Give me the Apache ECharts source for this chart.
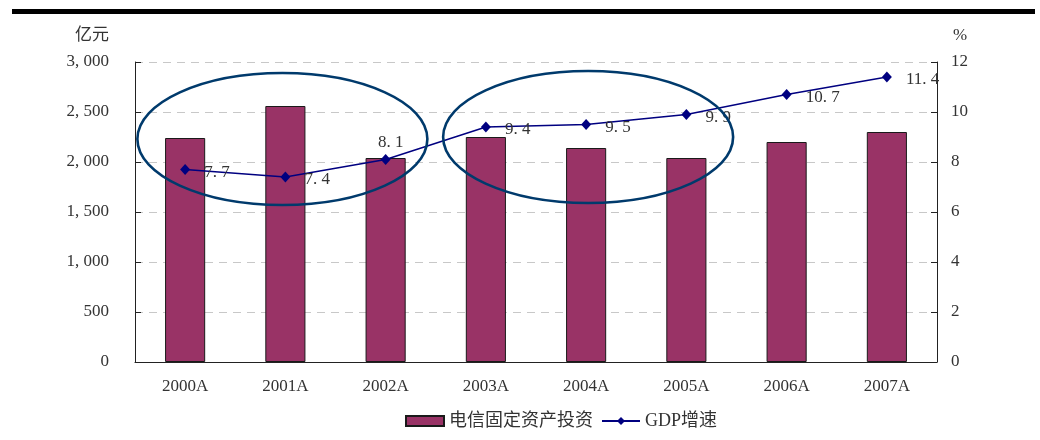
<!DOCTYPE html>
<html>
<head>
<meta charset="utf-8">
<script src="https://cdn.jsdelivr.net/npm/echarts@6/dist/echarts.min.js"></script>
<style>
  html, body { margin: 0; padding: 0; background: #fff; }
  #chart { width: 1040px; height: 440px; }
</style>
</head>
<body>
<div id="chart"></div>
<script>
// Telecom fixed-asset investment (亿元) vs GDP growth (%)
const categories = ['2000A', '2001A', '2002A', '2003A', '2004A', '2005A', '2006A', '2007A'];
const investment = [2240, 2560, 2040, 2250, 2140, 2040, 2200, 2300];
const gdpGrowth = [7.7, 7.4, 8.1, 9.4, 9.5, 9.9, 10.7, 11.4];
const leftTicks = { min: 0, max: 3000, interval: 500 };
const rightTicks = { min: 0, max: 12, interval: 2 };

const FONT = '"Liberation Serif", "Noto Sans CJK SC", serif';
const TEXT = '#333';
const AXIS = '#222';

function thousands(v) {
  const s = String(v);
  return s.length > 3 ? s.slice(0, -3) + ', ' + s.slice(-3) : s;
}
function decimal(v) {
  return v.toFixed(1).replace('.', '. ');
}

const gdpData = gdpGrowth.map((v, i) =>
  i === 2 ? { value: v, label: { position: 'top', distance: 3, offset: [5, 0] } } : v
);

const chart = echarts.init(document.getElementById('chart'), null, { renderer: 'canvas' });

chart.setOption({
  animation: false,
  backgroundColor: '#fff',
  grid: { left: 135, right: 103, top: 62, bottom: 78 },
  legend: {
    bottom: 5,
    left: 400,
    itemWidth: 38,
    itemHeight: 10,
    itemGap: 8,
    textStyle: { fontFamily: FONT, fontSize: 18, color: TEXT },
    data: [
      { name: '电信固定资产投资', icon: 'rect' },
      { name: 'GDP增速' }
    ]
  },
  xAxis: {
    type: 'category',
    data: categories,
    axisLine: { lineStyle: { color: AXIS, width: 1 } },
    axisTick: { inside: true, length: 5, alignWithLabel: false, lineStyle: { color: AXIS } },
    axisLabel: { fontFamily: FONT, fontSize: 17, color: TEXT, margin: 16 }
  },
  yAxis: [
    {
      type: 'value',
      name: '亿元',
      nameLocation: 'end',
      nameGap: 18,
      nameTextStyle: { fontFamily: FONT, fontSize: 17, color: TEXT, align: 'right', padding: [0, 26, 0, 0] },
      min: leftTicks.min, max: leftTicks.max, interval: leftTicks.interval,
      axisLine: { show: true, lineStyle: { color: AXIS } },
      axisTick: { show: true, inside: true, length: 6, lineStyle: { color: AXIS } },
      axisLabel: { fontFamily: FONT, fontSize: 17, color: TEXT, margin: 26, formatter: thousands },
      splitLine: { show: true, lineStyle: { color: '#c8c8c8', type: [8, 6], width: 1 } }
    },
    {
      type: 'value',
      name: '%',
      nameLocation: 'end',
      nameGap: 18,
      nameTextStyle: { fontFamily: FONT, fontSize: 17, color: TEXT, align: 'left', padding: [0, 0, 0, 16] },
      min: rightTicks.min, max: rightTicks.max, interval: rightTicks.interval,
      axisLine: { show: true, lineStyle: { color: AXIS } },
      axisTick: { show: true, inside: true, length: 6, lineStyle: { color: AXIS } },
      axisLabel: { fontFamily: FONT, fontSize: 17, color: TEXT, margin: 14 },
      splitLine: { show: false }
    }
  ],
  series: [
    {
      name: '电信固定资产投资',
      type: 'bar',
      data: investment,
      barWidth: '40%',
      itemStyle: { color: '#993366', borderColor: '#1a1a1a', borderWidth: 1 }
    },
    {
      name: 'GDP增速',
      type: 'line',
      yAxisIndex: 1,
      data: gdpData,
      z: 5,
      symbol: 'diamond',
      symbolSize: [10, 11],
      lineStyle: { color: '#000080', width: 1.5 },
      itemStyle: { color: '#000080' },
      label: {
        show: true,
        position: 'right',
        distance: 14,
        offset: [0, 3],
        fontFamily: FONT,
        fontSize: 17,
        color: TEXT,
        formatter: p => decimal(p.value)
      }
    }
  ]
});

// Header rule and highlight ellipses around the two periods
function drawOverlays() {
  const c1 = chart.convertToPixel({ xAxisIndex: 0, yAxisIndex: 0 }, [1, 2230]);
  const c2 = chart.convertToPixel({ xAxisIndex: 0, yAxisIndex: 0 }, [4, 2250]);
  const ringStyle = { fill: null, stroke: '#003a6c', lineWidth: 2.6 };
  chart.setOption({
    graphic: [
      { type: 'rect', shape: { x: 12, y: 9, width: 1023, height: 5 }, style: { fill: '#000' }, z: 100 },
      { type: 'ellipse', shape: { cx: c1[0] - 3, cy: c1[1], rx: 145, ry: 66 }, style: ringStyle, z: 100 },
      { type: 'ellipse', shape: { cx: c2[0] + 2, cy: c2[1], rx: 145, ry: 66 }, style: ringStyle, z: 100 }
    ]
  });
}
drawOverlays();
</script>
</body>
</html>
